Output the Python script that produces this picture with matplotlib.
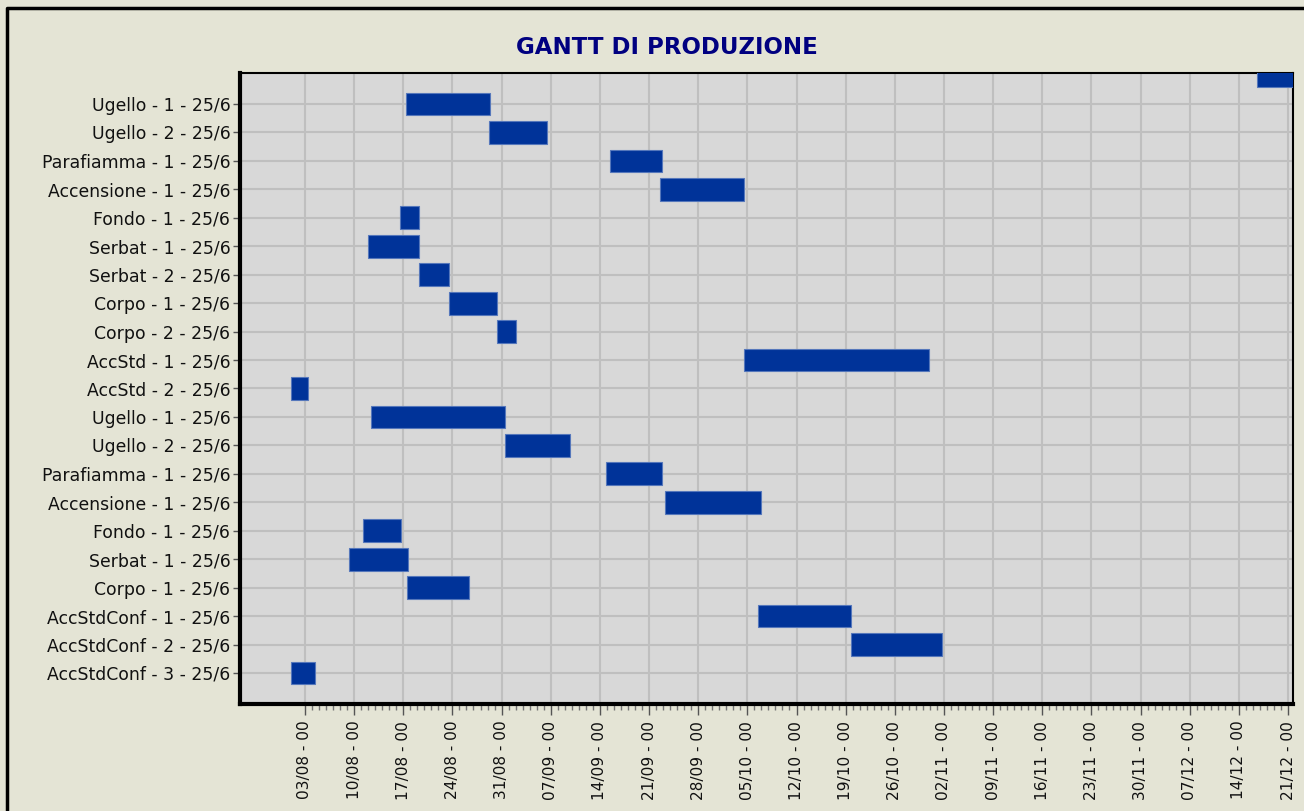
import matplotlib
matplotlib.use("Agg")
import matplotlib.pyplot as plt
import matplotlib.dates as mdates
from matplotlib.lines import Line2D
import pandas as pd

# rows from top to bottom; the first row has no label in the original chart
labels = [
    "",
    "Ugello - 1 - 25/6",
    "Ugello - 2 - 25/6",
    "Parafiamma - 1 - 25/6",
    "Accensione - 1 - 25/6",
    "Fondo - 1 - 25/6",
    "Serbat - 1 - 25/6",
    "Serbat - 2 - 25/6",
    "Corpo - 1 - 25/6",
    "Corpo - 2 - 25/6",
    "AccStd - 1 - 25/6",
    "AccStd - 2 - 25/6",
    "Ugello - 1 - 25/6",
    "Ugello - 2 - 25/6",
    "Parafiamma - 1 - 25/6",
    "Accensione - 1 - 25/6",
    "Fondo - 1 - 25/6",
    "Serbat - 1 - 25/6",
    "Corpo - 1 - 25/6",
    "AccStdConf - 1 - 25/6",
    "AccStdConf - 2 - 25/6",
    "AccStdConf - 3 - 25/6",
]

starts = [
    "2009-12-16 15:00",
    "2009-08-17 11:00",
    "2009-08-29 05:00",
    "2009-09-15 10:00",
    "2009-09-22 14:00",
    "2009-08-16 12:00",
    "2009-08-11 22:00",
    "2009-08-19 07:00",
    "2009-08-23 14:00",
    "2009-08-30 10:00",
    "2009-10-04 14:00",
    "2009-08-01 02:00",
    "2009-08-12 10:00",
    "2009-08-31 10:00",
    "2009-09-14 22:00",
    "2009-09-23 07:00",
    "2009-08-11 07:00",
    "2009-08-09 07:00",
    "2009-08-17 12:00",
    "2009-10-06 14:00",
    "2009-10-19 17:00",
    "2009-08-01 02:00",
]

ends = [
    "2009-12-23 00:00",
    "2009-08-29 07:00",
    "2009-09-06 12:00",
    "2009-09-22 19:00",
    "2009-10-04 14:00",
    "2009-08-19 07:00",
    "2009-08-19 07:00",
    "2009-08-23 14:00",
    "2009-08-30 10:00",
    "2009-09-02 02:00",
    "2009-10-30 22:00",
    "2009-08-03 10:00",
    "2009-08-31 12:00",
    "2009-09-09 19:00",
    "2009-09-22 19:00",
    "2009-10-06 22:00",
    "2009-08-16 17:00",
    "2009-08-17 17:00",
    "2009-08-26 10:00",
    "2009-10-19 17:00",
    "2009-11-01 17:00",
    "2009-08-04 10:00",
]

# weekly axis marks shown in the original
tick_start = "2009-08-03"
tick_end = "2009-12-21"

bg = "#e4e4d5"
plot_bg = "#d8d8d8"
bar_color = "#003399"

s = mdates.date2num(pd.to_datetime(starts).to_pydatetime())
e = mdates.date2num(pd.to_datetime(ends).to_pydatetime())
rows = list(range(len(labels)))

major = mdates.date2num(pd.date_range(tick_start, tick_end, freq="7D").to_pydatetime())
minor = mdates.date2num(pd.date_range(tick_start, tick_end, freq="D").to_pydatetime())

fig = plt.figure(figsize=(13.04, 8.11), dpi=100, facecolor=bg)
ax = fig.add_axes([240 / 1304, 1 - 704 / 811, (1293 - 240) / 1304, (704 - 73) / 811])
ax.set_facecolor(plot_bg)

ax.barh(rows, e - s, left=s, height=0.8, color=bar_color,
        edgecolor="#5577bb", linewidth=0.8, zorder=3)

ax.set_xlim(major[0] - 9.25, major[-1] + 0.7)
ax.set_ylim(22.09, -0.09)

ax.set_xticks(major)
ax.set_xticks(minor, minor=True)
ax.xaxis.set_major_formatter(mdates.DateFormatter("%d/%m - %H"))
ax.set_yticks(rows[1:])
ax.set_yticklabels(labels[1:])

ax.grid(True, which="major", color="#bfbfbf", linewidth=1.5, zorder=1)
ax.set_axisbelow(True)

ax.tick_params(axis="x", which="major", length=8, width=1, color="#555555",
               labelrotation=90, labelsize=11.1, pad=4)
ax.tick_params(axis="x", which="minor", length=4, width=1, color="#777777")
ax.tick_params(axis="y", which="major", length=5, width=1, color="#555555",
               labelsize=12.4, pad=2)
for lab in ax.get_xticklabels() + ax.get_yticklabels():
    lab.set_fontfamily("DejaVu Sans")
    lab.set_color("#111111")

ax.spines["left"].set_linewidth(3)
ax.spines["bottom"].set_linewidth(3)
ax.spines["top"].set_linewidth(1.5)
ax.spines["right"].set_linewidth(1.5)
for sp in ax.spines.values():
    sp.set_color("black")

fig.text(667 / 1304, 1 - 47 / 811, "GANTT DI PRODUZIONE", ha="center", va="center",
         fontsize=16.5, fontweight="bold", color="#000080", family="DejaVu Sans")

# frame of the chart window
fig.add_artist(Line2D([7 / 1304, 7 / 1304, 1.0], [0.0, 1 - 8 / 811, 1 - 8 / 811],
                      transform=fig.transFigure, color="black", linewidth=2.5))

fig.savefig("out.png", dpi=100, facecolor=bg)
